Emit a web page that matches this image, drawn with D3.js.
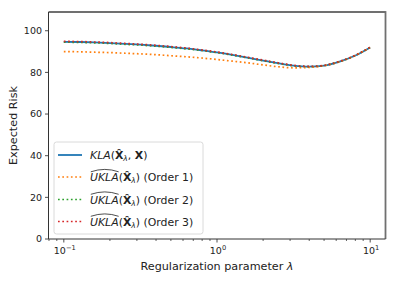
<!DOCTYPE html>
<html lang="en">
  <head>
    <meta charset="utf-8" />
    <script type="text/javascript" src="https://d3js.org/d3.v7.min.js"></script>
    <style>
      body { margin: 0; background: #fff; }
      text { font-family: "DejaVu Sans", sans-serif; }
    </style>
  </head>

  <body>
    <script type="text/javascript">
      let w = 398;
      let h = 282;

      // regularization parameter values
      let lambdas = [0.1, 0.126, 0.158, 0.2, 0.251, 0.316, 0.398, 0.501, 0.631, 0.794,
        1, 1.26, 1.58, 2, 2.51, 3.16, 3.98, 5.01, 6.31, 7.94, 10];

      let kla = [94.7, 94.6, 94.4, 94.1, 93.7, 93.3, 92.8, 92.2, 91.5, 90.6,
        89.6, 88.4, 87.1, 85.7, 84.4, 83.3, 82.8, 83.3, 85.2, 88.0, 92.0];
      let order1 = [90.0, 89.9, 89.7, 89.5, 89.2, 88.9, 88.5, 88.0, 87.5, 86.9,
        86.2, 85.4, 84.6, 83.6, 82.7, 82.2, 82.4, 83.2, 85.1, 88.0, 92.0];
      let order2 = [94.5, 94.4, 94.2, 93.9, 93.5, 93.1, 92.6, 92.0, 91.3, 90.5,
        89.5, 88.3, 87.0, 85.6, 84.3, 83.2, 82.8, 83.3, 85.2, 88.0, 92.0];
      let order3 = [94.9, 94.8, 94.6, 94.3, 93.9, 93.5, 93.0, 92.4, 91.7, 90.8,
        89.8, 88.6, 87.3, 85.9, 84.6, 83.4, 82.9, 83.4, 85.3, 88.1, 92.1];

      let yTicks = [0, 20, 40, 60, 80, 100];
      let xTicks = [0.1, 1, 10];
      let xTickExp = ["\u22121", "0", "1"];
      let orderLabels = ["(Order 1)", "(Order 2)", "(Order 3)"];

      let colors = ["#1f77b4", "#ff7f0e", "#2ca02c", "#d62728"];

      let mLeft = 48.5, mRight = 385.5, mTop = 12, mBottom = 239;

      let x = d3.scaleLog()
        .domain([Math.pow(10, -1.1), Math.pow(10, 1.1)])
        .range([mLeft, mRight]);
      let y = d3.scaleLinear().domain([0, 109]).range([mBottom, mTop]);

      let svg = d3.select("body").append("svg")
        .attr("width", w)
        .attr("height", h);

      // ticks
      let minor = [];
      [0.01, 0.1, 1].forEach((d) => {
        for (let k = 2; k <= 9; k++) minor.push(d * k);
      });
      minor = minor.filter((d) => x(d) >= mLeft - 0.5 && x(d) <= mRight + 0.5);

      svg.selectAll(".minor")
        .data(minor)
        .join("line")
        .attr("x1", (d) => x(d)).attr("x2", (d) => x(d))
        .attr("y1", mBottom).attr("y2", mBottom + 2)
        .attr("stroke", "#222").attr("stroke-width", 0.7);

      svg.selectAll(".xmajor")
        .data(xTicks)
        .join("line")
        .attr("x1", (d) => x(d)).attr("x2", (d) => x(d))
        .attr("y1", mBottom).attr("y2", mBottom + 3.5)
        .attr("stroke", "#222").attr("stroke-width", 0.8);

      let xl = svg.selectAll(".xlab")
        .data(xTicks)
        .join("text")
        .attr("x", (d) => x(d) + 1)
        .attr("y", mBottom + 15)
        .attr("text-anchor", "middle")
        .attr("font-size", "9.5px")
        .attr("fill", "#222");
      xl.append("tspan").text("10");
      xl.append("tspan")
        .attr("dy", -4)
        .attr("font-size", "6.7px")
        .text((d, i) => xTickExp[i]);

      svg.selectAll(".ymajor")
        .data(yTicks)
        .join("line")
        .attr("x1", mLeft - 3.5).attr("x2", mLeft)
        .attr("y1", (d) => y(d)).attr("y2", (d) => y(d))
        .attr("stroke", "#222").attr("stroke-width", 0.8);

      svg.selectAll(".ylab")
        .data(yTicks)
        .join("text")
        .attr("x", mLeft - 6.5)
        .attr("y", (d) => y(d) + 3.4)
        .attr("text-anchor", "end")
        .attr("font-size", "9.5px")
        .attr("fill", "#222")
        .text((d) => d);

      // lines
      let series = [kla, order1, order2, order3];
      let line = d3.line()
        .x((d, i) => x(lambdas[i]))
        .y((d) => y(d))
        .curve(d3.curveMonotoneX);

      svg.selectAll(".series")
        .data(series)
        .join("path")
        .attr("d", line)
        .attr("fill", "none")
        .attr("stroke", (d, i) => colors[i])
        .attr("stroke-width", (d, i) => (i == 0 ? 1.8 : 1.7))
        .attr("stroke-dasharray", (d, i) => (i == 0 ? null : "1.7,2.6"));

      // spines
      svg.append("line")
        .attr("x1", mLeft).attr("x2", mRight).attr("y1", mTop).attr("y2", mTop)
        .attr("stroke", "#707070").attr("stroke-width", 1.8);
      svg.append("line")
        .attr("x1", mRight).attr("x2", mRight).attr("y1", mTop - 0.9).attr("y2", mBottom)
        .attr("stroke", "#707070").attr("stroke-width", 1.8);
      svg.append("line")
        .attr("x1", mLeft).attr("x2", mLeft).attr("y1", mTop).attr("y2", mBottom)
        .attr("stroke", "#333").attr("stroke-width", 1);
      svg.append("line")
        .attr("x1", mLeft).attr("x2", mRight).attr("y1", mBottom).attr("y2", mBottom)
        .attr("stroke", "#333").attr("stroke-width", 1);

      // legend
      let lg = svg.append("g");
      lg.append("rect")
        .attr("x", 54).attr("y", 142)
        .attr("width", 149).attr("height", 92)
        .attr("rx", 2.5)
        .attr("fill", "#fff").attr("fill-opacity", 0.8)
        .attr("stroke", "#d0d0d0").attr("stroke-width", 0.8);

      let rowY = [155, 177, 199.5, 221.5];
      rowY.forEach((ry, i) => {
        lg.append("line")
          .attr("x1", 58).attr("x2", 82)
          .attr("y1", ry).attr("y2", ry)
          .attr("stroke", colors[i])
          .attr("stroke-width", i == 0 ? 1.8 : 1.7)
          .attr("stroke-dasharray", i == 0 ? null : "1.7,2.6");
      });

      function hatX(t) {
        // bold X with a hat and lambda subscript
        t.append("tspan").attr("font-weight", "bold").text("X\u0302");
        t.append("tspan").attr("font-style", "italic")
          .attr("font-size", "7.5px").attr("dy", 2.2).text("\u03bb");
        t.append("tspan").attr("dy", -2.2).text(")");
      }

      let t0 = lg.append("text")
        .attr("x", 90).attr("y", rowY[0] + 4)
        .attr("font-size", "10.9px").attr("fill", "#222");
      t0.append("tspan").attr("font-style", "italic").text("KLA");
      t0.append("tspan").text("(");
      t0.append("tspan").attr("font-weight", "bold").text("X\u0302");
      t0.append("tspan").attr("font-style", "italic")
        .attr("font-size", "7.5px").attr("dy", 2.2).text("\u03bb");
      t0.append("tspan").attr("dy", -2.2).text(", ");
      t0.append("tspan").attr("font-weight", "bold").text("X");
      t0.append("tspan").text(")");

      orderLabels.forEach((lab, i) => {
        let by = rowY[i + 1] + 4;
        let t = lg.append("text")
          .attr("x", 90).attr("y", by)
          .attr("font-size", "10.9px").attr("fill", "#222");
        let u = t.append("tspan").attr("font-style", "italic").text("UKLA");
        t.append("tspan").text("(");
        hatX(t);
        t.append("tspan").text(" " + lab);
        let uw = u.node().getComputedTextLength();
        // wide hat over UKLA
        lg.append("path")
          .attr("d", `M${90.8},${by - 9.2} Q${90.5 + uw / 2},${by - 14} ${90 + uw},${by - 9.2}`)
          .attr("fill", "none")
          .attr("stroke", "#222")
          .attr("stroke-width", 0.8);
      });

      // axis labels
      svg.append("text")
        .attr("x", (mLeft + mRight) / 2)
        .attr("y", 270)
        .attr("text-anchor", "middle")
        .attr("font-size", "11.2px")
        .attr("fill", "#222")
        .html('Regularization parameter <tspan font-style="italic">\u03bb</tspan>');

      svg.append("text")
        .attr("transform", `translate(17,${(mTop + mBottom) / 2}) rotate(-90)`)
        .attr("text-anchor", "middle")
        .attr("font-size", "11.2px")
        .attr("fill", "#222")
        .text("Expected Risk");
    </script>
  </body>
</html>
